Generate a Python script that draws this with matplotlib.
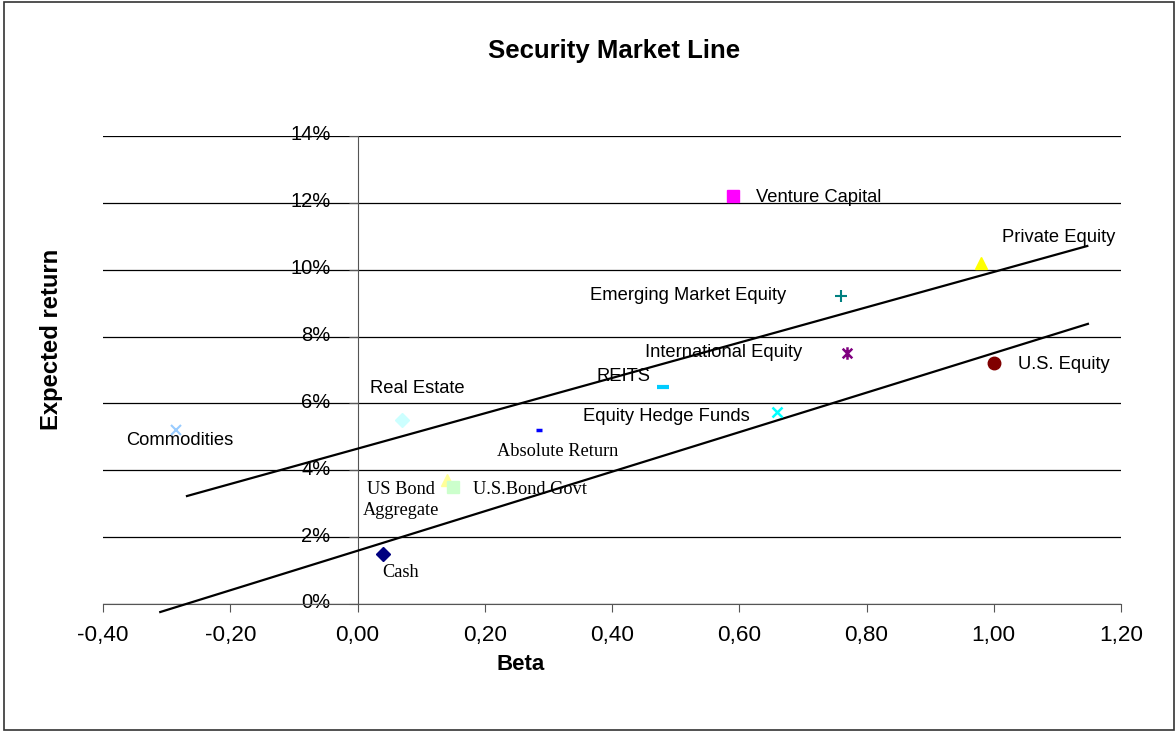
import matplotlib
matplotlib.use('Agg')
import matplotlib.pyplot as plt
from matplotlib.patches import Rectangle
from matplotlib.path import Path
from matplotlib.transforms import ScaledTranslation
from matplotlib.ticker import FuncFormatter, PercentFormatter

# asset classes: beta vs expected return
names = ['Cash', 'US Bond\nAggregate', 'U.S.Bond Govt', 'Absolute Return', 'REITS',
         'Equity Hedge Funds', 'Real Estate', 'Commodities', 'International Equity',
         'Emerging Market Equity', 'U.S. Equity', 'Private Equity', 'Venture Capital']
betas = [0.04, 0.14, 0.15, 0.285, 0.48, 0.66, 0.07, -0.285, 0.77, 0.76, 1.00, 0.98, 0.59]
returns = [0.015, 0.037, 0.035, 0.052, 0.065, 0.0575, 0.055, 0.052, 0.075, 0.092, 0.072, 0.102, 0.122]

# the two security market lines (end points)
sml_betas = [[-0.268, 1.147], [-0.310, 1.148]]
sml_returns = [[0.0323, 0.1071], [-0.0024, 0.0838]]

x_ticks = [-0.4, -0.2, 0.0, 0.2, 0.4, 0.6, 0.8, 1.0, 1.2]
y_ticks = [0.0, 0.02, 0.04, 0.06, 0.08, 0.10, 0.12, 0.14]

star = Path([(-1, -1), (1, 1), (-1, 1), (1, -1), (0, -1.3), (0, 1.3)],
            [Path.MOVETO, Path.LINETO, Path.MOVETO, Path.LINETO, Path.MOVETO, Path.LINETO])

# marker, color, size, edge width
styles = [('D', '#000080', 7, 1),
          ('^', '#FFFF99', 8, 1),
          ('s', '#CCFFCC', 8, 1),
          ('_', '#0000FF', 5, 2.5),
          ('_', '#00CCFF', 9, 3),
          ('x', '#00FFFF', 7, 1.8),
          ('D', '#CCFFFF', 7, 1),
          ('x', '#99CCFF', 7, 1.5),
          (star, '#800080', 9, 1.8),
          ('+', '#008080', 8, 1.5),
          ('o', '#800000', 9, 1),
          ('^', '#FFFF00', 9, 1),
          ('s', '#FF00FF', 9, 1)]

# label offset (pixels), alignment, font
label_pos = [((18, -19), 'center', 'Liberation Serif'),
             ((-46, -20), 'center', 'Liberation Serif'),
             ((20, -2), 'left', 'Liberation Serif'),
             ((19, -21), 'center', 'Liberation Serif'),
             ((-12, 10), 'right', 'Liberation Sans'),
             ((-28, -5), 'right', 'Liberation Sans'),
             ((15, 32), 'center', 'Liberation Sans'),
             ((4, -10), 'center', 'Liberation Sans'),
             ((-45, 1), 'right', 'Liberation Sans'),
             ((-55, 1), 'right', 'Liberation Sans'),
             ((24, -1), 'left', 'Liberation Sans'),
             ((21, 26), 'left', 'Liberation Sans'),
             ((23, -1), 'left', 'Liberation Sans')]

plt.rcParams['font.family'] = ['Liberation Sans', 'DejaVu Sans']

W, H = 1176, 731
fig = plt.figure(figsize=(W / 100.0, H / 100.0), dpi=100)
ax = fig.add_axes([103.0 / W, 1 - 604.0 / H, 1018.0 / W, 468.0 / H])

ax.set_xlim(-0.4, 1.2)
ax.set_ylim(0, 0.14)
ax.set_xticks(x_ticks)
ax.set_yticks(y_ticks)
ax.xaxis.set_major_formatter(FuncFormatter(lambda v, p: ('%.2f' % v).replace('.', ',')))
ax.yaxis.set_major_formatter(PercentFormatter(1.0, decimals=0))

for s in ['top', 'right']:
    ax.spines[s].set_visible(False)
ax.spines['left'].set_position(('data', 0))
ax.spines['left'].set_color('#555555')
ax.spines['bottom'].set_color('#555555')
ax.yaxis.grid(True, color='black', lw=0.9)
ax.set_axisbelow(True)

ax.tick_params(axis='y', direction='out', length=6.5, pad=13, labelsize=14.5, color='#555555')
ax.tick_params(axis='x', direction='out', length=6, pad=9, labelsize=16.2, color='#555555')

# percent labels sit a little above their gridline
up = ScaledTranslation(0, 3 / 100.0, fig.dpi_scale_trans)
for lab in ax.get_yticklabels():
    lab.set_transform(lab.get_transform() + up)

for i in range(len(sml_betas)):
    ax.plot(sml_betas[i], sml_returns[i], color='black', lw=1.6, clip_on=False, zorder=3)

for i in range(len(names)):
    m, c, ms, mew = styles[i]
    ax.plot(betas[i], returns[i], ls='none', marker=m, color=c, mec=c, ms=ms, mew=mew,
            clip_on=False, zorder=4)
    off, ha, fam = label_pos[i]
    ax.annotate(names[i], (betas[i], returns[i]), xytext=off, textcoords='offset pixels',
                ha=ha, va='center', fontsize=13.2, family=fam, linespacing=1.3, zorder=2)

fig.text(614.0 / W, 1 - 58.0 / H, 'Security Market Line', ha='center', va='baseline',
         fontsize=18.5, fontweight='bold')
fig.text(521.0 / W, 1 - 670.0 / H, 'Beta', ha='center', va='baseline',
         fontsize=16, fontweight='bold')
fig.text(52.0 / W, 1 - 339.0 / H, 'Expected return', ha='center', va='center',
         rotation=90, fontsize=17.2, fontweight='bold')

fig.add_artist(Rectangle((4.0 / W, 1.0 / H), 1170.0 / W, 728.0 / H, transform=fig.transFigure,
                         fill=False, ec='#333333', lw=1.2))

plt.savefig('out.png', dpi=100)
